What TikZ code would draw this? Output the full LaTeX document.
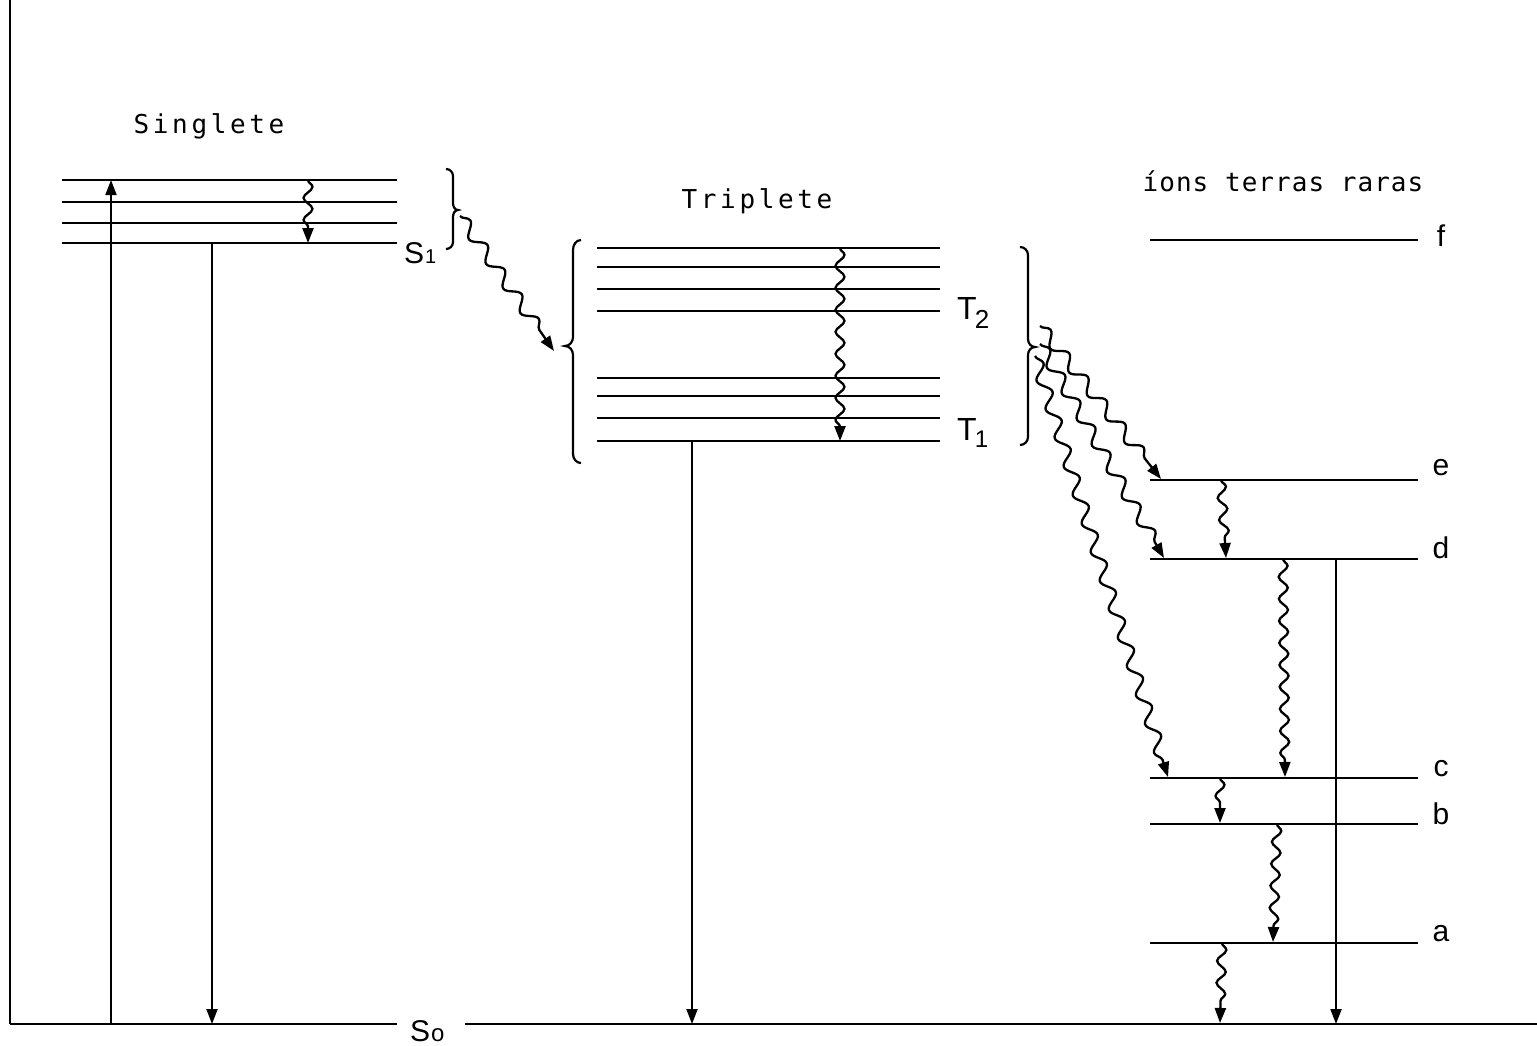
\documentclass[tikz,border=0pt]{standalone}
\usepackage{fontspec}
\setmainfont{Liberation Sans}
\newfontfamily\twA[LetterSpace=14]{DejaVu Sans Mono}
\newfontfamily\twB[LetterSpace=4]{DejaVu Sans Mono}
\usetikzlibrary{decorations.pathmorphing,arrows.meta}
\begin{document}
\begin{tikzpicture}[x=1pt,y=-1pt,
  lvl/.style={line width=2.8pt},
  trans/.style={line width=2pt},
  tipped/.style={-{Triangle[length=15pt,width=11pt]}},
  wavyv/.style={line width=2.3pt,decorate,decoration={snake,amplitude=4.5pt,segment length=22pt,post length=14pt}},
  wavyd/.style={line width=2.3pt,decorate,decoration={snake,amplitude=6pt,segment length=30pt,post length=16pt}},
  title/.style={font=\twA\fontsize{26}{30}\selectfont},
  lab/.style={font=\fontsize{30}{34}\selectfont},
  brk/.style={line width=2.2pt}
]
\useasboundingbox (0,0) rectangle (1537,1045);
% axis and ground
\coordinate (axtop) at (10,0);
\coordinate (gl) at (10,1024);
\coordinate (gm1) at (397,1024);
\coordinate (gm2) at (465,1024);
\coordinate (gr) at (1537,1024);
\draw[trans] (axtop) -- (gl);
\draw[lvl] (gl) -- (gm1);
\draw[lvl] (gm2) -- (gr);
\node[lab,anchor=base west,inner sep=0pt] (So) at (410,1041) {S\kern1pt{\fontsize{24}{24}\selectfont o}};

% titles
\node[title] (tS) at (209,126) {Singlete};
\node[title] (tT) at (757,201) {Triplete};
\node[font=\twB\fontsize{26}{30}\selectfont] (tR) at (1283,181) {íons terras raras};

% singlet levels
\foreach \y [count=\i] in {180,202,223,243} {
  \coordinate (sL\i) at (62,\y);
  \coordinate (sR\i) at (397,\y);
  \draw[lvl] (sL\i) -- (sR\i);
}
\node[lab,anchor=base west,inner sep=0pt] (S1) at (404,263) {S\kern1pt{\fontsize{20}{20}\selectfont 1}};

% triplet levels
\foreach \y [count=\i] in {248,267,289,311,378,396,418,441} {
  \coordinate (tL\i) at (597,\y);
  \coordinate (tR\i) at (940,\y);
  \draw[lvl] (tL\i) -- (tR\i);
}
\node[font=\fontsize{32}{34}\selectfont,anchor=base west,inner sep=0pt] (T2) at (957,319) {T\kern-2pt\raisebox{-9pt}{\fontsize{26}{26}\selectfont 2}};
\node[font=\fontsize{32}{34}\selectfont,anchor=base west,inner sep=0pt] (T1) at (957,440) {T\kern-2pt\raisebox{-7pt}{\fontsize{24}{24}\selectfont 1}};

% rare-earth levels
\foreach \n/\y in {f/240,e/480,d/559,c/778,b/824,a/943} {
  \coordinate (r\n L) at (1150,\y);
  \coordinate (r\n R) at (1418,\y);
  \draw[lvl] (r\n L) -- (r\n R);
}
\node[lab] (lf) at (1441,236) {f};
\node[lab] (le) at (1441,468) {e};
\node[lab] (ld) at (1441,548) {d};
\node[lab] (lc) at (1441,769) {c};
\node[lab] (lb) at (1441,814) {b};
\node[lab] (la) at (1441,934) {a};

% brackets
\draw[brk] (446,169) to[out=0,in=90] (453,176) -- (453,203) to[out=-90,in=180] (458,210) to[out=180,in=90] (453,217) -- (453,242) to[out=-90,in=0] (446,249);
\draw[brk] (581,240) to[out=180,in=90] (573,250) -- (573,337) to[out=-90,in=0] (565,346) to[out=0,in=90] (573,355) -- (573,454) to[out=-90,in=180] (581,463);
\draw[brk] (1020,247) to[out=0,in=90] (1028,255) -- (1028,339) to[out=-90,in=180] (1035,347) to[out=180,in=90] (1028,355) -- (1028,437) to[out=-90,in=0] (1020,445);

% straight radiative transitions
\coordinate (abs0) at (111,1024);
\coordinate (abs1) at (111,180);
\draw[trans,tipped] (abs0) -- (abs1);
\coordinate (fl0) at (212,243);
\coordinate (fl1) at (212,1024);
\draw[trans,tipped] (fl0) -- (fl1);
\coordinate (ph0) at (692,441);
\coordinate (ph1) at (692,1024);
\draw[trans,tipped] (ph0) -- (ph1);
\coordinate (em0) at (1336,559);
\coordinate (em1) at (1336,1024);
\draw[trans,tipped] (em0) -- (em1);

% wavy non-radiative transitions
\coordinate (ws0) at (308,180);  \coordinate (ws1) at (308,243);
\draw[wavyv,tipped] (ws0) -- (ws1);
\coordinate (wt0) at (840,248);  \coordinate (wt1) at (840,441);
\draw[wavyv,tipped] (wt0) -- (wt1);
\coordinate (isc0) at (460,216); \coordinate (isc1) at (554,351);
\draw[wavyd,tipped] (isc0) -- (isc1);
\coordinate (et0) at (1040,326); \coordinate (et1) at (1161,479);
\draw[wavyd,tipped] (et0) -- (et1);
\coordinate (dt0) at (1040,344); \coordinate (dt1) at (1164,558);
\draw[wavyd,tipped] (dt0) -- (dt1);
\coordinate (ct0) at (1035,356); \coordinate (ct1) at (1168,777);
\draw[wavyd,tipped] (ct0) -- (ct1);
\coordinate (ed0) at (1221,480); \coordinate (ed1) at (1226,558);
\draw[wavyv,tipped] (ed0) -- (ed1);
\coordinate (dc0) at (1283,559); \coordinate (dc1) at (1285,777);
\draw[wavyv,tipped] (dc0) -- (dc1);
\coordinate (cb0) at (1220,778); \coordinate (cb1) at (1220,823);
\draw[wavyv,tipped] (cb0) -- (cb1);
\coordinate (ba0) at (1277,824); \coordinate (ba1) at (1273,942);
\draw[wavyv,tipped] (ba0) -- (ba1);
\coordinate (ag0) at (1222,943); \coordinate (ag1) at (1220,1023);
\draw[wavyv,tipped] (ag0) -- (ag1);
\end{tikzpicture}
\end{document}
